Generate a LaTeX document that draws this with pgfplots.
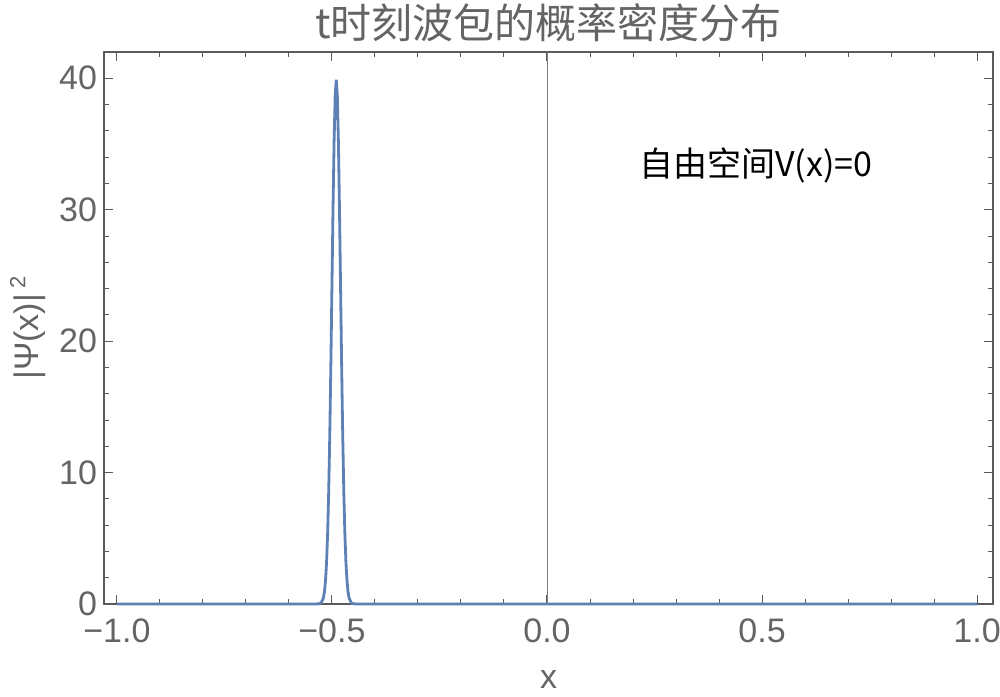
\documentclass[border=0pt]{standalone}
\usepackage{fontspec}
\setmainfont{Liberation Sans}
\newfontfamily\cjk{Noto Sans CJK SC}
\usepackage{pgfplots}
\pgfplotsset{compat=1.18}
\usetikzlibrary{calc}
\definecolor{mblue}{RGB}{94,129,181}
\definecolor{tgray}{RGB}{100,100,100}
\definecolor{fgray}{RGB}{90,90,90}

\begin{document}
\begin{tikzpicture}
\begin{axis}[
    name=ax,
    scale only axis,
    width=444.5pt, height=276pt,
    xmin=-1.03, xmax=1.037,
    ymin=0, ymax=42.0,
    clip=false,
    xtick={-1,-0.5,0,0.5,1},
    xticklabels={−1.0,−0.5,0.0,0.5,1.0},
    ytick={0,10,20,30,40},
    yticklabels={0,10,20,30,40},
    minor x tick num=4,
    minor y tick num=4,
    tick align=inside,
    major tick length=4.5pt,
    minor tick length=2.5pt,
    axis line style={fgray, line width=0.6pt},
    tick style={fgray, line width=0.5pt},
    tick label style={font=\fontsize{17}{17}\selectfont, text=tgray},
    xticklabel style={yshift=-4pt},
    every axis title shift=0pt,
    title={\cjk t时刻波包的概率密度分布},
    title style={at={(axis description cs:0.5,1)}, anchor=base, yshift=7pt,
                 font=\fontsize{20.5}{20.5}\selectfont, text=tgray},
    xlabel={x},
    xlabel style={at={(axis description cs:0.5,0)}, anchor=base, yshift=-42pt,
                  font=\fontsize{17}{17}\selectfont, text=tgray},
    ylabel={|Ψ(x)|\,\raisebox{0.75ex}{\fontsize{11}{11}\selectfont 2}},
    ylabel style={at={(axis description cs:0,0.5)}, anchor=center, yshift=38pt,
                  font=\fontsize{17}{17}\selectfont, text=tgray},
]
\draw[gray, line width=0.4pt] (axis cs:0,0) -- (axis cs:0,42);
\addplot[mblue, line width=1.4pt] coordinates {
    (-1,0) (-0.55,0) (-0.54,0.0003) (-0.53,0.0134) (-0.525,0.0873)
    (-0.52,0.443) (-0.5175,0.909) (-0.515,1.753) (-0.5125,3.175)
    (-0.51,5.40) (-0.5075,8.63) (-0.505,12.95) (-0.5025,18.26)
    (-0.50,24.20) (-0.4975,30.11) (-0.495,35.20) (-0.4925,38.66)
    (-0.49,39.89)
    (-0.4875,38.66) (-0.485,35.20) (-0.4825,30.11) (-0.48,24.20)
    (-0.4775,18.26) (-0.475,12.95) (-0.4725,8.63) (-0.47,5.40)
    (-0.4675,3.175) (-0.465,1.753) (-0.4625,0.909) (-0.46,0.443)
    (-0.455,0.0873) (-0.45,0.0134) (-0.44,0.0003) (-0.43,0) (1,0)
};
\node[font=\fontsize{17}{17}\selectfont, anchor=center] at (axis cs:0.486,33.4)
    {\cjk 自由空间V(x)=0};
\end{axis}
\pgfresetboundingbox
\path ($(ax.south west)+(-52pt,-46pt)$) rectangle ($(ax.north east)+(3.5pt,26pt)$);
\end{tikzpicture}
\end{document}
